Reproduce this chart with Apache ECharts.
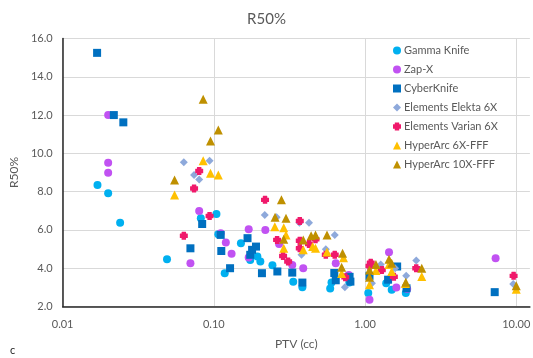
<!DOCTYPE html>
<html>
<head>
<meta charset="utf-8">
<title>R50%</title>
<script src="https://cdn.jsdelivr.net/npm/echarts@6/dist/echarts.min.js"></script>
<style>
  html, body, #main { margin: 0; width: 100%; height: 100%; background: #fff; }
</style>
</head>
<body>
<div id="main"></div>
<script>
// [PTV (cc), R50%]
var gammaKnife = [[0.017, 8.35], [0.020, 7.91], [0.024, 6.38], [0.049, 4.47], [0.082, 6.61], [0.104, 6.83],
  [0.107, 5.77], [0.118, 3.74], [0.151, 5.30], [0.174, 4.43], [0.194, 4.61], [0.203, 4.35], [0.244, 4.16],
  [0.335, 3.29], [0.385, 3.0], [0.588, 2.94], [0.60, 3.25], [0.787, 3.25], [1.05, 2.70], [1.38, 3.22],
  [1.50, 2.87], [1.86, 2.70]];
var zapX = [[0.020, 12.0], [0.020, 9.51], [0.020, 8.99], [0.070, 4.26], [0.080, 6.99], [0.111, 5.83],
  [0.120, 5.34], [0.131, 4.75], [0.170, 6.03], [0.170, 4.56], [0.219, 6.0], [0.27, 5.27], [0.33, 4.17],
  [0.39, 4.0], [0.64, 4.26], [0.78, 3.65], [1.07, 2.35], [1.44, 4.83], [1.61, 2.99], [1.90, 2.92], [7.3, 4.52]];
var cyberKnife = [[0.0169, 15.25], [0.0218, 12.0], [0.0252, 11.62], [0.070, 5.04], [0.0837, 6.31],
  [0.111, 5.74], [0.112, 4.90], [0.128, 4.0], [0.167, 5.57], [0.174, 4.70], [0.179, 4.96], [0.19, 5.13],
  [0.208, 3.74], [0.263, 3.83], [0.33, 3.77], [0.385, 3.25], [0.626, 3.75], [0.64, 3.37], [0.79, 3.55],
  [0.80, 3.30], [1.07, 3.6], [1.42, 3.4], [1.63, 4.09], [1.88, 2.95], [7.2, 2.75]];
var elekta6x = [[0.0633, 9.53], [0.074, 8.87], [0.080, 8.64], [0.0937, 9.62], [0.217, 6.78], [0.26, 6.66],
  [0.368, 6.38], [0.426, 6.38], [0.38, 4.70], [0.55, 4.99], [0.63, 5.74], [0.735, 3.01], [1.11, 3.22],
  [1.27, 4.20], [1.58, 4.0], [1.87, 3.6], [2.18, 4.40], [9.55, 3.18]];
var varian6x = [[0.0633, 5.69], [0.074, 8.17], [0.080, 9.08], [0.0937, 6.73], [0.218, 7.57], [0.262, 5.48],
  [0.287, 4.64], [0.31, 4.35], [0.37, 6.47], [0.37, 5.44], [0.37, 5.04], [0.426, 5.26], [0.47, 5.51],
  [0.55, 4.70], [0.63, 4.70], [0.74, 3.53], [1.07, 4.12], [1.09, 4.28], [1.29, 3.91], [1.55, 3.55],
  [2.18, 4.0], [9.6, 3.6]];
var hyperArc6x = [[0.055, 7.83], [0.085, 9.62], [0.095, 8.96], [0.107, 8.87], [0.253, 6.17], [0.29, 6.12],
  [0.29, 5.04], [0.30, 5.74], [0.39, 4.96], [0.45, 5.13], [0.47, 5.04], [0.56, 4.85], [0.70, 3.72],
  [0.72, 4.55], [1.07, 3.13], [1.18, 3.88], [1.44, 4.2], [1.50, 3.83], [1.85, 3.2], [2.37, 3.57], [10.0, 2.90]];
var hyperArc10x = [[0.055, 8.61], [0.085, 12.82], [0.095, 10.64], [0.107, 11.22], [0.254, 6.66], [0.28, 7.57],
  [0.30, 6.61], [0.29, 5.51], [0.39, 5.48], [0.44, 5.70], [0.47, 5.74], [0.56, 5.74], [0.71, 4.78],
  [0.70, 4.05], [1.07, 3.91], [1.07, 3.53], [1.18, 4.2], [1.44, 4.47], [1.50, 4.26], [1.86, 3.27],
  [2.37, 4.0], [10.0, 3.08]];

var seriesNames = ['Gamma Knife', 'Zap-X', 'CyberKnife', 'Elements Elekta 6X', 'Elements Varian 6X',
  'HyperArc 6X-FFF', 'HyperArc 10X-FFF'];
var seriesData = [gammaKnife, zapX, cyberKnife, elekta6x, varian6x, hyperArc6x, hyperArc10x];
var colors = ['#00B0F0', '#C152F2', '#0070C0', '#8EA9DB', '#F0196B', '#FFC000', '#BF9000'];
var symbols = ['circle', 'circle', 'rect', 'diamond',
  'path://M2.6,0H7.4Q7.8,0 7.8,0.4V2.2H9.6Q10,2.2 10,2.6V7.4Q10,7.8 9.6,7.8H7.8V9.6Q7.8,10 7.4,10H2.6Q2.2,10 2.2,9.6V7.8H0.4Q0,7.8 0,7.4V2.6Q0,2.2 0.4,2.2H2.2V0.4Q2.2,0 2.6,0Z',
  'triangle', 'triangle'];
var sizes = [8, 8, 8, 8, 8, 9, 9];

var font = 'Lato, "Open Sans", sans-serif';
var grey = '#595959';

var chart = echarts.init(document.getElementById('main'));

chart.setOption({
  animation: false,
  textStyle: { fontFamily: font },
  title: {
    text: 'R50%',
    left: 'center',
    top: 7,
    textStyle: { fontSize: 15, fontWeight: 'normal', color: grey, fontFamily: font }
  },
  legend: {
    orient: 'vertical',
    left: 388,
    top: 40,
    itemWidth: 8,
    itemHeight: 8,
    itemGap: 8,
    textStyle: { fontSize: 11, color: grey, padding: [0, 0, 0, -2] },
    data: seriesNames
  },
  grid: { left: 51, top: 38.5, right: 3, bottom: 51.5 },
  xAxis: {
    type: 'log',
    logBase: 10,
    min: 0.01,
    max: 12.3,
    name: 'PTV (cc)',
    nameLocation: 'middle',
    nameGap: 32,
    nameTextStyle: { fontSize: 12, color: grey },
    axisLine: { lineStyle: { color: '#262626', width: 1.5 } },
    axisTick: { show: false },
    axisLabel: {
      color: grey, fontSize: 11, margin: 12, showMaxLabel: false,
      formatter: function (v) { return v.toFixed(2); }
    },
    splitLine: { show: true, showMaxLine: false, lineStyle: { color: '#D9D9D9' } }
  },
  yAxis: {
    type: 'value',
    min: 2,
    max: 16,
    interval: 2,
    name: 'R50%',
    nameLocation: 'middle',
    nameGap: 39,
    nameTextStyle: { fontSize: 12, color: grey },
    axisLine: { show: true, lineStyle: { color: '#262626', width: 1.5 } },
    axisTick: { show: false },
    axisLabel: {
      color: grey, fontSize: 11, margin: 10,
      formatter: function (v) { return v.toFixed(1); }
    },
    splitLine: { lineStyle: { color: '#D9D9D9' } }
  },
  graphic: [{
    type: 'text',
    left: 10,
    top: 345,
    style: { text: 'c', fontSize: 11, fill: '#262626', fontFamily: font }
  }],
  series: seriesNames.map(function (name, i) {
    return {
      name: name,
      type: 'scatter',
      symbol: symbols[i],
      symbolSize: sizes[i],
      itemStyle: { color: colors[i], opacity: 1 },
      data: seriesData[i]
    };
  })
});
</script>
</body>
</html>
